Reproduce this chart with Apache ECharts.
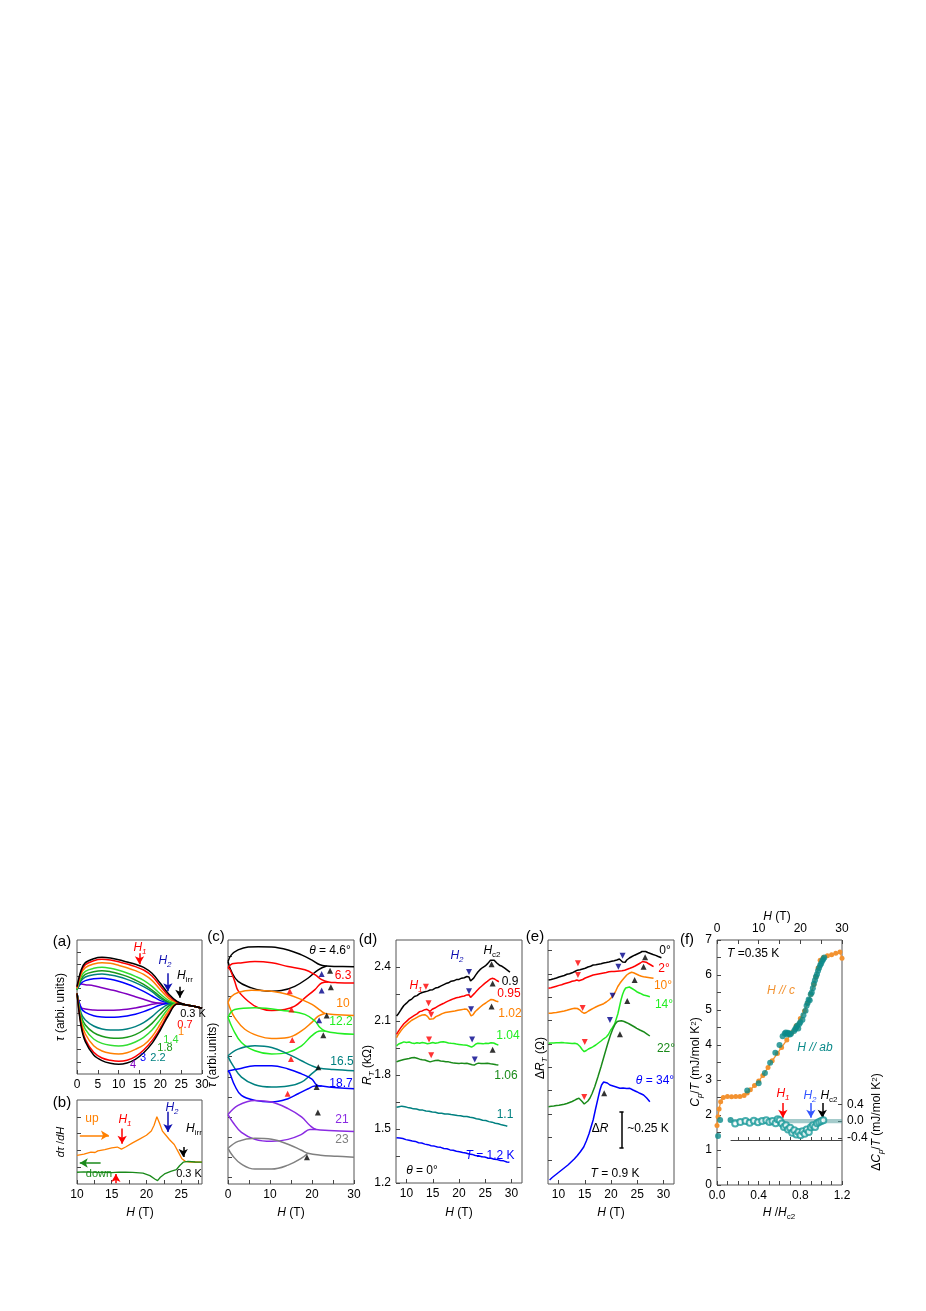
<!DOCTYPE html>
<html><head><meta charset="utf-8">
<script src="https://cdn.jsdelivr.net/npm/echarts@6/dist/echarts.min.js"></script>
<style>html,body{margin:0;padding:0;background:#fff}#c{width:926px;height:1311px}</style>
</head><body><div id="c"></div><script>
// ---------------- Panel (a) : tau vs H, loops at several temperatures ----------------
const aH = [0,1,2,4,6,8,10,12,14,16,18,20,22,24,26,28,30];
const aTempLabels = ['0.3 K','0.7','1','1.4','1.8','2.2','3','4'];
const aUp03 = [0.5,1.0,1.22,1.34,1.38,1.36,1.31,1.24,1.17,1.08,0.9,0.6,0.28,0.06,-0.04,-0.09,-0.15];
const aUp07 = [0.48,0.95,1.16,1.28,1.32,1.3,1.25,1.18,1.1,1.0,0.82,0.52,0.22,0.04,-0.04,-0.09,-0.15];
const aUp1  = [0.45,0.88,1.07,1.18,1.22,1.2,1.14,1.07,0.98,0.87,0.69,0.41,0.15,0.02,-0.04,-0.09,-0.15];
const aUp14 = [0.42,0.8,0.96,1.05,1.08,1.05,0.99,0.91,0.81,0.69,0.51,0.28,0.08,0.0,-0.04,-0.09,-0.15];
const aUp18 = [0.4,0.72,0.87,0.95,0.98,0.95,0.89,0.81,0.7,0.57,0.4,0.2,0.04,-0.01,-0.04,-0.09,-0.15];
const aUp22 = [0.4,0.68,0.79,0.86,0.88,0.85,0.8,0.72,0.62,0.5,0.35,0.15,0.02,-0.01,-0.04,-0.09,-0.15];
const aUp3  = [0.42,0.6,0.68,0.74,0.75,0.72,0.66,0.58,0.48,0.36,0.22,0.08,0.01,-0.01,-0.04,-0.09,-0.15];
const aUp4  = [0.6,0.58,0.56,0.53,0.47,0.41,0.35,0.28,0.2,0.12,0.04,0.0,-0.01,-0.02,-0.04,-0.09,-0.15];
const aDn03 = [0.3,-0.7,-1.15,-1.55,-1.72,-1.8,-1.83,-1.79,-1.68,-1.48,-1.2,-0.8,-0.35,-0.02,-0.04,-0.09,-0.15];
const aDn07 = [0.3,-0.65,-1.08,-1.47,-1.64,-1.71,-1.74,-1.71,-1.6,-1.4,-1.12,-0.74,-0.3,-0.02,-0.04,-0.09,-0.15];
const aDn1  = [0.3,-0.55,-0.92,-1.27,-1.43,-1.5,-1.52,-1.48,-1.38,-1.25,-1.0,-0.62,-0.22,-0.01,-0.04,-0.09,-0.15];
const aDn14 = [0.3,-0.45,-0.78,-1.07,-1.2,-1.26,-1.28,-1.25,-1.16,-1.02,-0.8,-0.48,-0.15,0.0,-0.04,-0.09,-0.15];
const aDn18 = [0.3,-0.38,-0.65,-0.88,-0.99,-1.04,-1.05,-1.02,-0.94,-0.8,-0.6,-0.33,-0.08,-0.01,-0.04,-0.09,-0.15];
const aDn22 = [0.3,-0.3,-0.5,-0.68,-0.77,-0.8,-0.8,-0.77,-0.7,-0.58,-0.4,-0.18,-0.03,-0.01,-0.04,-0.09,-0.15];
const aDn3  = [0.3,-0.15,-0.27,-0.37,-0.41,-0.42,-0.41,-0.38,-0.33,-0.25,-0.15,-0.05,0.0,-0.01,-0.04,-0.09,-0.15];
const aDn4  = [0.3,-0.12,-0.17,-0.2,-0.21,-0.21,-0.2,-0.18,-0.14,-0.09,-0.03,0.0,-0.01,-0.02,-0.04,-0.09,-0.15];
const aXTicks = [0,5,10,15,20,25,30];

// ---------------- Panel (b) : dtau/dH ----------------
const bUp = [[10,3.4],[11,3.55],[12,3.8],[12.6,3.75],[13,3.95],[14,4.1],[15,4.3],[15.8,4.4],[16.4,4.15],[17,4.4],[18,4.9],[19,5.35],[20,5.8],[20.7,6.3],[21.1,7.0],[21.5,8.0],[21.9,7.2],[22.3,6.3],[22.8,5.8],[23.3,5.3],[24,4.7],[24.6,3.8],[25.1,3.0],[25.6,2.7],[26.3,2.6],[27,2.62],[28,2.6]];
const bDown = [[10,1.4],[11,1.45],[12,1.42],[13,1.38],[14,1.4],[15,1.35],[16,1.42],[17,1.4],[18,1.38],[19.5,1.3],[20.5,1.0],[21.2,0.6],[21.6,0.4],[22.0,0.8],[22.6,1.2],[23.5,1.5],[24.3,1.7],[24.8,2.2],[25.3,2.6],[26,2.7],[27,2.62],[28,2.6]];
const bXTicks = [10,15,20,25];

// ---------------- Panel (c) : tau vs H at several angles ----------------
const cAngles = ['4.6','6.3','10','12.2','16.5','18.7','21','23'];
const cUp46 = [[0,22.43],[0.8,23.1],[2.4,23.6],[4.8,23.9],[7.2,23.93],[10.4,23.9],[14.3,23.6],[17.5,23.1],[19.9,22.6],[21.9,22.1],[23.5,21.97],[26,21.93],[30,21.9]];
const cDn46 = [[0,22.43],[0.8,21.43],[2.4,20.43],[5.6,19.77],[8,19.5],[10.4,19.43],[12.7,19.5],[15.9,19.93],[19.1,20.77],[21.5,21.6],[23.5,21.97]];
const cUp63 = [[0,21.8],[1,22.2],[2.4,22.27],[6.4,22.43],[10.4,22.3],[14.3,21.93],[18.3,21.6],[20.7,21.1],[22.3,20.6],[23.9,20.37],[26,20.3],[30,20.27]];
const cDn63 = [[0,21.8],[0.5,21.6],[1.6,20.43],[2.4,19.5],[4.8,18.43],[7.2,17.77],[10.4,17.5],[13.5,17.6],[15.9,17.93],[18.3,18.77],[20.7,19.6],[22.3,20.27],[23.9,20.37]];
const cUp10 = [[0,18.3],[0.8,18.9],[2.4,19.3],[5.6,19.53],[8,19.5],[10.4,19.43],[14.3,19.1],[17.5,18.6],[20,18.1],[22,17.5],[23.1,17.2],[25,17.1],[30,17.0]];
const cDn10 = [[0,18.3],[0.6,17.6],[1.6,16.77],[4,15.6],[7.2,14.93],[10.4,14.67],[14.3,14.77],[17.5,15.43],[19.9,16.27],[21.5,16.93],[23.1,17.2]];
const cUp122 = [[0,16.8],[1.6,17.6],[6.4,17.77],[14.3,17.43],[18.3,17.1],[20.7,16.43],[21.9,15.77],[23.1,15.43],[26,15.2],[30,15.1]];
const cDn122 = [[0,16.8],[1.2,15.6],[3.2,14.27],[6.4,13.43],[10.4,13.1],[14.3,13.27],[17.5,13.93],[19.9,14.93],[21.9,15.43],[23.1,15.43]];
const cUp165 = [[0,12.93],[2.4,13.6],[6.4,13.93],[10.4,13.77],[14.3,13.1],[17.5,12.43],[19.9,11.93],[21.5,11.7],[25,11.55],[30,11.43]];
const cDn165 = [[0,12.85],[1.2,11.93],[3.2,10.77],[6.4,10.0],[10.4,9.77],[14.3,9.87],[17.5,10.27],[19.9,11.1],[21.5,11.65]];
const cUp187 = [[0,11.4],[2.4,11.6],[6.4,11.93],[10.4,11.93],[14.3,11.6],[17.5,11.1],[19.9,10.6],[21.1,10.0],[22.3,9.87],[26,9.7],[30,9.6]];
const cDn187 = [[0,11.4],[0.4,11.2],[1.6,9.93],[3.2,8.93],[6.4,8.43],[10.4,8.27],[14.3,8.6],[16.7,9.1],[19.1,9.6],[20.7,9.87],[22.3,9.87]];
const cUp21 = [[0,7.0],[2.4,7.93],[6.4,8.43],[10.4,8.27],[14.3,7.6],[17.5,6.77],[19.5,5.9],[21,5.5],[24,5.4],[30,5.3]];
const cDn21 = [[0,7.0],[1.2,6.2],[3.2,5.2],[6.4,4.5],[10.4,4.3],[14.3,4.5],[17.5,5.0],[19.5,5.5],[21,5.5]];
const cUp23 = [[0,3.6],[2.4,4.3],[6.4,4.6],[10.4,4.5],[14.3,4.0],[17.5,3.4],[19,3.1],[22,2.9],[26,2.8],[30,2.7]];
const cDn23 = [[0,3.6],[1.2,2.8],[3.2,2.0],[6.4,1.5],[10.4,1.5],[14.3,1.9],[17.5,2.6],[19,3.1]];
const cTriRed = [[14.7,19.43],[15.1,17.6],[15.3,14.53],[15.0,12.6],[14.2,9.1]];
const cTriBlue = [[22.3,21.17],[22.3,19.5],[21.7,16.5]];
const cTriBlack = [[24.3,21.5],[24.5,19.83],[23.5,17.0],[22.7,15.0],[21.5,11.77],[21.1,9.77],[21.4,7.2],[18.8,2.7]];
const cYTicks = [0.66,2.69,4.72,6.75,8.78,10.81,12.84,14.87,16.9,18.93,20.96,22.99];

// ---------------- Panel (d) : R_T vs H ----------------
const dLabels = ['0.9','0.95','1.02','1.04','1.06','1.1','T = 1.2 K'];
const d09 = [[8.1,2.128],[8.5,2.142],[9.0,2.165],[9.5,2.186],[10.0,2.199],[10.5,2.214],[11.0,2.222],[11.5,2.236],[12.0,2.241],[12.5,2.252],[13.0,2.258],[13.5,2.262],[14.0,2.266],[14.5,2.272],[15.0,2.274],[15.5,2.283],[16.0,2.286],[16.5,2.294],[17.0,2.301],[17.5,2.308],[18.0,2.312],[18.5,2.321],[19.0,2.323],[19.5,2.33],[20.0,2.331],[20.5,2.338],[21.0,2.34],[21.5,2.347],[21.9,2.345],[22.2,2.322],[22.5,2.32],[22.8,2.338],[23.2,2.356],[23.6,2.372],[24.0,2.385],[24.5,2.397],[25.0,2.406],[25.5,2.42],[26.0,2.438],[26.3,2.446],[26.7,2.438],[27.2,2.422],[27.7,2.41],[28.2,2.404],[28.7,2.394],[29.2,2.383],[29.7,2.372]];
const d095 = [[8.1,2.026],[8.5,2.045],[9.0,2.066],[9.5,2.085],[10.0,2.098],[10.5,2.112],[11.0,2.122],[11.5,2.131],[12.0,2.14],[12.5,2.152],[13.0,2.156],[13.5,2.163],[13.9,2.165],[14.2,2.155],[14.5,2.154],[14.9,2.165],[15.4,2.172],[16.0,2.183],[16.5,2.19],[17.0,2.197],[17.5,2.205],[18.0,2.212],[18.5,2.218],[19.0,2.224],[19.5,2.229],[20.0,2.232],[20.5,2.236],[21.0,2.239],[21.5,2.245],[21.9,2.246],[22.2,2.231],[22.5,2.232],[22.9,2.252],[23.4,2.268],[23.9,2.283],[24.4,2.296],[24.9,2.309],[25.4,2.32],[25.9,2.332],[26.3,2.337],[26.8,2.333],[27.2,2.325],[27.6,2.318]];
const d102 = [[8.1,2.007],[8.5,2.028],[9.0,2.048],[9.5,2.066],[10.0,2.08],[10.5,2.092],[11.0,2.104],[11.5,2.112],[12.0,2.12],[12.5,2.128],[13.0,2.133],[13.5,2.135],[14.0,2.126],[14.4,2.11],[14.7,2.103],[15.1,2.112],[15.6,2.124],[16.2,2.132],[16.8,2.141],[17.4,2.147],[18.0,2.15],[18.6,2.153],[19.2,2.156],[19.8,2.16],[20.4,2.163],[21.0,2.166],[21.5,2.165],[21.9,2.152],[22.3,2.128],[22.7,2.136],[23.1,2.153],[23.6,2.166],[24.1,2.179],[24.6,2.191],[25.1,2.2],[25.6,2.211],[26.1,2.22],[26.5,2.218],[27.0,2.211],[27.5,2.207]];
const d104 = [[8.1,1.962],[8.5,1.972],[9.0,1.978],[9.5,1.984],[10.0,1.981],[10.5,1.983],[11.0,1.978],[11.5,1.975],[12.0,1.979],[12.5,1.976],[13.0,1.981],[13.5,1.978],[14.0,1.974],[14.5,1.976],[15.0,1.981],[15.5,1.976],[16.0,1.979],[16.5,1.983],[17.0,1.985],[17.5,1.982],[18.0,1.978],[18.5,1.976],[19.0,1.975],[19.5,1.972],[20.0,1.97],[20.5,1.968],[21.0,1.966],[21.5,1.965],[22.0,1.96],[22.4,1.955],[22.8,1.962],[23.2,1.972],[23.6,1.976],[24.1,1.975],[24.6,1.973],[25.1,1.976],[25.6,1.975],[26.1,1.979],[26.6,1.978],[27.0,1.972],[27.5,1.966]];
const d106 = [[8.1,1.873],[8.5,1.878],[9.0,1.882],[9.5,1.886],[10.0,1.889],[10.5,1.892],[11.0,1.896],[11.5,1.897],[12.0,1.893],[12.5,1.888],[13.0,1.885],[13.5,1.883],[14.0,1.878],[14.5,1.873],[15.0,1.877],[15.5,1.881],[16.0,1.882],[16.5,1.878],[17.0,1.876],[17.5,1.874],[18.0,1.873],[18.5,1.869],[19.0,1.866],[19.5,1.865],[20.0,1.864],[20.5,1.866],[21.0,1.864],[21.5,1.865],[22.0,1.861],[22.5,1.857],[22.9,1.855],[23.3,1.862],[23.7,1.866],[24.2,1.864],[24.8,1.864],[25.4,1.865],[26.0,1.862],[26.6,1.86],[27.1,1.857],[27.5,1.855]];
const d11 = [[8.1,1.621],[8.6,1.624],[9.1,1.627],[9.7,1.624],[10.2,1.62],[10.8,1.617],[11.3,1.612],[11.9,1.611],[12.5,1.606],[13.1,1.605],[13.7,1.6],[14.3,1.599],[14.9,1.594],[15.5,1.593],[16.1,1.588],[16.7,1.588],[17.3,1.583],[17.9,1.583],[18.5,1.58],[19.1,1.578],[19.7,1.575],[20.3,1.574],[20.9,1.569],[21.5,1.569],[22.1,1.565],[22.7,1.562],[23.3,1.557],[23.9,1.554],[24.5,1.549],[25.1,1.547],[25.7,1.541],[26.3,1.538],[26.9,1.532],[27.5,1.529],[28.1,1.523],[28.7,1.52],[29.2,1.515]];
const d12K = [[8.1,1.452],[8.7,1.45],[9.3,1.447],[9.9,1.441],[10.5,1.438],[11.1,1.433],[11.7,1.431],[12.3,1.424],[12.9,1.422],[13.5,1.416],[14.1,1.413],[14.7,1.407],[15.3,1.405],[15.9,1.4],[16.5,1.398],[17.1,1.392],[17.7,1.39],[18.3,1.384],[18.9,1.382],[19.5,1.376],[20.1,1.374],[20.7,1.369],[21.3,1.367],[21.9,1.361],[22.5,1.359],[23.1,1.353],[23.7,1.352],[24.3,1.346],[24.9,1.344],[25.5,1.339],[26.1,1.337],[26.7,1.332],[27.3,1.33],[27.9,1.325],[28.5,1.323],[29.1,1.317],[29.6,1.315]];
const dTriRed = [[13.7,2.29],[14.2,2.198],[14.7,2.135],[14.3,1.997],[14.7,1.91]];
const dTriBlue = [[21.9,2.372],[21.9,2.265],[22.3,2.165],[22.5,1.997],[23.0,1.886]];
const dTriBlack = [[26.2,2.415],[26.4,2.308],[26.2,2.18],[26.4,1.94]];
const dYLabels = [1.2,1.5,1.8,2.1,2.4];
const dYTicks = [1.2,1.35,1.5,1.65,1.8,1.95,2.1,2.25,2.4];
const dXTicks = [10,15,20,25,30];

// ---------------- Panel (e) : Delta R_T vs H ----------------
const eLabels = ['0°','2°','10°','14°','22°','θ = 34°'];
const e0 = [[8.1,20.4],[8.6,20.45],[9.1,20.52],[9.6,20.6],[10.1,20.7],[10.6,20.78],[11.1,20.85],[11.6,20.97],[12.1,21.02],[12.6,21.12],[13.1,21.25],[13.6,21.38],[14.1,21.42],[14.6,21.5],[15.1,21.58],[15.6,21.7],[16.1,21.78],[16.6,21.9],[17.1,21.92],[17.6,21.97],[18.1,22.02],[18.6,22.1],[19.1,22.14],[19.6,22.2],[20.1,22.27],[20.6,22.33],[21.1,22.4],[21.6,22.5],[21.9,22.45],[22.2,22.2],[22.4,22.07],[22.7,22.18],[23.0,22.4],[23.5,22.6],[24.0,22.75],[24.5,22.88],[25.0,23.0],[25.5,23.12],[25.9,23.25],[26.2,23.3],[26.6,23.25],[27.0,23.15],[27.5,23.05],[28.0,22.95],[28.5,22.86],[29.0,22.75],[29.6,22.63]];
const e2 = [[8.1,19.57],[8.6,19.62],[9.1,19.7],[9.6,19.78],[10.1,19.86],[10.6,19.93],[11.1,20.02],[11.6,20.1],[12.1,20.18],[12.6,20.27],[13.1,20.33],[13.5,20.4],[13.9,20.32],[14.2,20.28],[14.6,20.45],[15.1,20.6],[15.6,20.7],[16.1,20.8],[16.6,20.9],[17.1,20.95],[17.6,21.0],[18.1,21.05],[18.6,21.1],[19.1,21.15],[19.6,21.22],[20.1,21.25],[20.6,21.25],[21.1,21.28],[21.6,21.3],[22.1,21.32],[22.6,21.38],[23.1,21.48],[23.6,21.57],[24.1,21.68],[24.6,21.8],[25.1,21.95],[25.6,22.1],[26.0,22.25],[26.3,22.3],[26.7,22.18],[27.1,22.05],[27.6,21.9],[28.1,21.73]];
const e10 = [[8.1,17.07],[8.6,17.08],[9.1,17.12],[9.6,17.15],[10.1,17.2],[10.6,17.25],[11.1,17.3],[11.6,17.37],[12.1,17.45],[12.6,17.52],[13.1,17.57],[13.6,17.55],[14.1,17.38],[14.5,17.18],[14.9,17.07],[15.3,17.15],[15.7,17.3],[16.2,17.45],[16.6,17.57],[17.1,17.7],[17.6,17.82],[18.1,17.93],[18.6,18.03],[19.1,18.2],[19.6,18.4],[20.1,18.65],[20.5,18.9],[20.9,19.3],[21.3,19.75],[21.7,20.07],[22.1,20.35],[22.5,20.6],[23.0,20.9],[23.5,21.08],[23.9,21.17],[24.3,21.12],[24.8,21.0],[25.3,20.88],[25.8,20.78],[26.2,20.73],[26.8,20.68],[27.4,20.63],[28.1,20.57]];
const e14 = [[8.1,14.07],[8.6,14.1],[9.1,14.1],[9.6,14.13],[10.1,14.12],[10.6,14.14],[11.1,14.12],[11.6,14.1],[12.1,14.08],[12.6,14.06],[13.1,14.07],[13.6,14.0],[14.1,13.75],[14.5,13.45],[14.9,13.23],[15.3,13.35],[15.7,13.5],[16.2,13.62],[16.6,13.73],[17.1,13.9],[17.6,14.1],[18.1,14.3],[18.6,14.52],[19.1,14.7],[19.5,14.95],[19.9,15.35],[20.3,15.65],[20.7,16.0],[21.0,16.5],[21.3,17.0],[21.6,17.7],[21.9,18.4],[22.2,18.95],[22.5,19.35],[22.8,19.6],[23.1,19.73],[23.5,19.7],[24.0,19.55],[24.5,19.38],[24.9,19.23],[25.5,19.08],[26.2,18.9],[26.8,18.82],[27.4,18.73]];
const e22 = [[8.1,7.73],[8.6,7.77],[9.1,7.8],[9.6,7.84],[10.1,7.88],[10.6,7.93],[11.1,7.98],[11.6,8.05],[12.1,8.15],[12.6,8.25],[13.1,8.38],[13.5,8.5],[13.9,8.57],[14.2,8.45],[14.5,8.25],[14.9,8.0],[15.2,8.1],[15.6,8.3],[16.0,8.6],[16.4,9.05],[16.9,9.73],[17.5,10.7],[18.1,11.73],[18.8,13.0],[19.4,14.07],[19.9,14.9],[20.4,15.57],[20.8,16.0],[21.2,16.25],[21.6,16.3],[22.0,16.33],[22.5,16.25],[23.0,16.13],[23.5,16.0],[24.0,15.85],[24.5,15.7],[24.9,15.57],[25.5,15.4],[26.2,15.23],[26.8,15.02],[27.4,14.8]];
const e34 = [[8.3,0.4],[8.8,0.65],[9.4,0.9],[10.0,1.15],[10.6,1.4],[11.2,1.65],[11.8,1.9],[12.4,2.2],[13.0,2.5],[13.6,2.85],[14.2,3.25],[14.8,3.7],[15.3,4.3],[15.8,5.0],[16.2,5.7],[16.6,6.4],[17.1,7.6],[17.6,8.73],[17.9,9.4],[18.2,9.9],[18.6,10.2],[18.9,10.23],[19.3,10.1],[19.8,9.9],[20.4,9.8],[21.0,9.7],[21.7,9.57],[22.3,9.6],[23.0,9.55],[23.6,9.57],[24.2,9.4],[24.9,9.23],[25.5,9.07],[26.2,8.9],[26.8,8.6],[27.4,8.23]];
const eTriRed = [[13.7,22.07],[13.7,20.9],[14.6,17.6],[15.0,14.2],[14.9,8.7]];
const eTriBlue = [[22.2,22.83],[21.4,21.73],[20.3,18.83],[19.8,16.4]];
const eTriBlack = [[26.5,22.67],[26.2,21.73],[24.5,20.4],[23.1,18.3],[21.7,14.97],[18.7,9.07]];
const eYTicks = [2.33,4.67,7.0,9.33,11.67,14.0,16.33,18.67,21.0,23.33];
const eXTicks = [10,15,20,25,30];
const eBarX = 22.0, eBarTop = 7.2, eBarBottom = 3.6;

// ---------------- Panel (f) : specific heat ----------------
const fOrange = [[0,1.7],[0.01,1.95],[0.02,2.17],[0.035,2.38],[0.06,2.5],[0.1,2.53],[0.14,2.52],[0.18,2.53],[0.22,2.53],[0.26,2.56],[0.29,2.63],[0.32,2.72],[0.36,2.84],[0.4,2.97],[0.44,3.13],[0.49,3.36],[0.53,3.55],[0.58,3.76],[0.62,3.93],[0.67,4.14],[0.72,4.36],[0.76,4.55],[0.8,4.76],[0.84,4.97],[0.87,5.2],[0.9,5.45],[0.93,5.72],[0.95,5.95],[0.97,6.2],[0.99,6.42],[1.02,6.5],[1.06,6.55],[1.1,6.58],[1.14,6.62],[1.18,6.66],[1.2,6.48]];
const fTeal = [[0.01,1.4],[0.03,1.86],[0.13,1.86],[0.29,2.7],[0.4,2.91],[0.46,3.2],[0.51,3.49],[0.56,3.78],[0.6,4.0],[0.63,4.25],[0.65,4.33],[0.66,4.36],[0.67,4.3],[0.68,4.35],[0.69,4.33],[0.7,4.3],[0.71,4.32],[0.74,4.4],[0.75,4.45],[0.76,4.5],[0.77,4.55],[0.78,4.47],[0.79,4.6],[0.8,4.65],[0.82,4.72],[0.83,4.85],[0.85,4.98],[0.86,5.12],[0.87,5.2],[0.88,5.3],[0.89,5.28],[0.9,5.45],[0.91,5.5],[0.92,5.62],[0.93,5.75],[0.94,5.85],[0.95,5.95],[0.96,6.02],[0.97,6.12],[0.98,6.2],[0.99,6.28],[1.0,6.33],[1.01,6.4],[1.02,6.45],[1.03,6.5]];
const fDelta = [[0.17,-0.06],[0.22,-0.02],[0.27,0.0],[0.31,-0.04],[0.35,0.01],[0.39,-0.03],[0.43,0.0],[0.47,0.02],[0.5,-0.02],[0.53,0.0],[0.56,-0.05],[0.58,0.04],[0.6,0.02],[0.62,-0.06],[0.64,-0.14],[0.66,-0.1],[0.68,-0.2],[0.7,-0.16],[0.72,-0.28],[0.74,-0.22],[0.76,-0.32],[0.78,-0.26],[0.8,-0.34],[0.82,-0.24],[0.84,-0.3],[0.86,-0.2],[0.88,-0.26],[0.9,-0.15],[0.92,-0.1],[0.94,-0.14],[0.96,-0.05],[0.98,-0.02],[1.0,0.0],[1.02,0.02]];
const fMarks = [0.63, 0.90, 1.01]; // H1, H2, Hc2 in H/Hc2
const fXLabels = [0,0.4,0.8,1.2];
const fXTicks = [0,0.1,0.2,0.3,0.4,0.5,0.6,0.7,0.8,0.9,1.0,1.1,1.2];
const fTopLabels = [0,10,20,30];
const fYLabels = [0,1,2,3,4,5,6,7];
const fY2Labels = [-0.4,0,0.4];

// ---------------- helpers ----------------
const FONT = "'Liberation Sans', Arial, Helvetica, sans-serif";
const TK = '#444';
function R(c, s) {
  const sub = Math.round(s * 0.7);
  const b = {fill:c, color:c, fontFamily:FONT, fontSize:s, lineHeight:s+2, verticalAlign:'top'};
  return {
    n: b,
    i: Object.assign({}, b, {fontStyle:'italic'}),
    s: Object.assign({}, b, {fontSize:sub, lineHeight:sub+1, padding:[Math.round(s*0.5),0,0,0]}),
    si: Object.assign({}, b, {fontSize:sub, lineHeight:sub+1, fontStyle:'italic', padding:[Math.round(s*0.5),0,0,0]}),
    u: Object.assign({}, b, {fontSize:sub, lineHeight:sub+1})
  };
}
function T(x, y, text, color, size, o) {
  o = o || {};
  return {type:'text', x:x, y:y, rotation:o.rot||0, z:100, silent:true,
    style:{text:text, fill:color, fontFamily:FONT, fontSize:size, align:o.align||'center', verticalAlign:'middle', rich:R(color,size)}};
}
function G(left, top, width, height, show) {
  return {left, top, width, height, show: show !== false, borderColor:'#555', borderWidth:1, backgroundColor:'transparent', containLabel:false, outerBoundsMode:'none'};
}
function AX(gi, min, max, labels, ticks, o) {
  const a = {type:'value', gridIndex:gi, min:min, max:max,
    axisLine:{show:false, onZero:false}, splitLine:{show:false},
    axisTick:{show: ticks.length>0, inside:true, length:4, lineStyle:{color:TK,width:1}, customValues:ticks},
    axisLabel:{show: labels.length>0, color:'#000', fontFamily:FONT, fontSize:12, margin:5, customValues:labels}};
  return Object.assign(a, o || {});
}
function L(xi, data, color, w, smooth, z) {
  return {type:'line', xAxisIndex:xi, yAxisIndex:xi, data:data, symbol:'none', smooth:smooth||false,
    lineStyle:{color:color, width:w||1.5}, itemStyle:{color:color}, silent:true, z:z||2};
}
function TRI(xi, data, color, down) {
  return {type:'scatter', xAxisIndex:xi, yAxisIndex:xi, data:data, symbol:'triangle', symbolSize:[6,6],
    symbolRotate: down ? 180 : 0, itemStyle:{color:color}, silent:true, z:5};
}
function ARROWS(xi, yi, items, x0, y0) {
  return {type:'line', xAxisIndex:xi, yAxisIndex:yi, data:[[x0,y0]], symbol:'none', lineStyle:{opacity:0}, silent:true, z:6,
    markLine:{silent:true, symbol:['none','arrow'], symbolSize:[7,8], label:{show:false}, emphasis:{disabled:true}, animation:false,
      data: items.map(a => [{coord:[a[0],a[1]], lineStyle:{color:a[4], width:1.5, type:'solid'}, itemStyle:{color:a[4]}}, {coord:[a[2],a[3]]}])}};
}
function pairs(xs, ys) { return xs.map((x,i) => [x, ys[i]]); }

// grids: 0 a, 1 b, 2 c, 3 d, 4 e, 5 f, 6 f-inset
const grids = [G(77,940,125,134), G(77,1100,125,84), G(228,940,126,244), G(396,940,126,243), G(548,940,126,244), G(717,940,125,245), G(731,1100,111,40,false)];

const fmt1 = v => v.toFixed(1);
const insetTicks = [0.2,0.3,0.4,0.5,0.6,0.7,0.8,0.9,1.0,1.1];
const xAxes = [
  AX(0, 0, 30, aXTicks, aXTicks),
  AX(1, 10, 28, bXTicks, [10,12.5,15,17.5,20,22.5,25,27.5]),
  AX(2, 0, 30, [0,10,20,30], [0,5,10,15,20,25,30]),
  AX(3, 8, 32, dXTicks, dXTicks),
  AX(4, 8, 32, eXTicks, eXTicks),
  AX(5, 0, 1.2, fXLabels, fXTicks, {axisLabel:{show:true,color:'#000',fontFamily:FONT,fontSize:12,margin:5,customValues:fXLabels,formatter:fmt1}}),
  AX(5, 0, 30, fTopLabels, [0,5,10,15,20,25,30], {position:'top'}),
  AX(6, 0.13, 1.2, [], insetTicks, {position:'bottom', axisLine:{show:true, onZero:false, lineStyle:{color:TK,width:1}}, axisTick:{show:true,inside:true,length:3,lineStyle:{color:TK},customValues:insetTicks}})
];
const yAxes = [
  AX(0, -2.12, 1.9, [], [-1.753,-1.387,-1.02,-0.653,-0.287,0.08,0.447,0.813,1.18,1.547]),
  AX(1, 0, 10, [], [2,4,6,8]),
  AX(2, 0, 24.6, [], cYTicks),
  AX(3, 1.2, 2.55, dYLabels, dYTicks),
  AX(4, 0, 24.4, [], eYTicks),
  AX(5, 0, 7, fYLabels, [0,0.5,1,1.5,2,2.5,3,3.5,4,4.5,5,5.5,6,6.5,7]),
  AX(6, -0.45, 0.5, fY2Labels, fY2Labels, {position:'right', axisLabel:{show:true,color:'#000',fontFamily:FONT,fontSize:12,margin:5,customValues:fY2Labels,formatter:fmt1}})
];
const series = [];
// (a)
const aColors = ['#000000','#ff0000','#ff8000','#33dd33','#1a991a','#008080','#0000ff','#8000c0'];
const aUps = [aUp03,aUp07,aUp1,aUp14,aUp18,aUp22,aUp3,aUp4];
const aDns = [aDn03,aDn07,aDn1,aDn14,aDn18,aDn22,aDn3,aDn4];
for (let k = aUps.length-1; k >= 0; k--) {
  series.push(L(0, pairs(aH, aUps[k]), aColors[k], 1.5, 0.35, 10-k));
  series.push(L(0, pairs(aH, aDns[k]), aColors[k], 1.5, 0.35, 10-k));
}
series.push(ARROWS(0, 0, [[15,1.5,15,1.17,'#ff0000'],[21.8,0.9,21.8,0.36,'#1010b0'],[24.7,0.5,24.7,0.17,'#000000']], 0, 0));
// (b)
series.push(L(1, bUp, '#ff8000', 1.3, false));
series.push(L(1, bDown, '#1a8a1a', 1.3, false));
series.push(ARROWS(1, 1, [[16.5,6.6,16.5,4.8,'#ff0000'],[15.6,0.1,15.6,1.2,'#ff0000'],[23.1,8.6,23.1,6.2,'#1010b0'],[22.1,-0.2,22.1,0.3,'#1010b0'],[25.3,4.4,25.3,3.2,'#000000'],[10.4,5.8,14.6,5.8,'#ff8000'],[13.4,2.5,10.4,2.5,'#1a8a1a']], 10, 0));
// (c)
const cColors = ['#000000','#ff0000','#ff8000','#22ee22','#008080','#0000ff','#8a2be2','#808080'];
const cUps = [cUp46,cUp63,cUp10,cUp122,cUp165,cUp187,cUp21,cUp23];
const cDns = [cDn46,cDn63,cDn10,cDn122,cDn165,cDn187,cDn21,cDn23];
for (let k = 0; k < cUps.length; k++) {
  series.push(L(2, cUps[k], cColors[k], 1.5, 0.4, 3));
  series.push(L(2, cDns[k], cColors[k], 1.5, 0.4, 3));
}
series.push(TRI(2, cTriRed, '#ff0000'), TRI(2, cTriBlue, '#00008b'), TRI(2, cTriBlack, '#000000'));
// (d)
const dColors = ['#000000','#ff0000','#ff8000','#22ee22','#1a8a1a','#008080','#0000ff'];
[d09,d095,d102,d104,d106,d11,d12K].forEach((d,k) => series.push(L(3, d, dColors[k], 1.5, false, 3)));
series.push(TRI(3, dTriRed, '#ff0000', true), TRI(3, dTriBlue, '#00008b', true), TRI(3, dTriBlack, '#000000'));
// (e)
const eColors = ['#000000','#ff0000','#ff8000','#22ee22','#1a8a1a','#0000ff'];
[e0,e2,e10,e14,e22,e34].forEach((d,k) => series.push(L(4, d, eColors[k], 1.5, false, 3)));
series.push(TRI(4, eTriRed, '#ff0000', true), TRI(4, eTriBlue, '#00008b', true), TRI(4, eTriBlack, '#000000'));
series.push({type:'line', xAxisIndex:4, yAxisIndex:4, data:[[8,0]], symbol:'none', lineStyle:{opacity:0}, silent:true,
  markLine:{silent:true, symbol:['none','none'], label:{show:false}, lineStyle:{color:'#000',width:1.5,type:'solid'},
    data:[[{coord:[eBarX,eBarTop]},{coord:[eBarX,eBarBottom]}],[{coord:[eBarX-0.4,eBarTop]},{coord:[eBarX+0.4,eBarTop]}],[{coord:[eBarX-0.4,eBarBottom]},{coord:[eBarX+0.4,eBarBottom]}]]}});
// (f)
series.push({type:'line', xAxisIndex:5, yAxisIndex:5, data:fOrange, symbol:'circle', symbolSize:5, showAllSymbol:true,
  lineStyle:{color:'#f39230', width:1.3}, itemStyle:{color:'#f39230'}, silent:true, z:3});
series.push({type:'scatter', xAxisIndex:5, yAxisIndex:5, data:fTeal, symbol:'circle', symbolSize:6, itemStyle:{color:'#0b8a8a'}, silent:true, z:4});
series.push({type:'scatter', xAxisIndex:7, yAxisIndex:6, data:fDelta, symbol:'emptyCircle', symbolSize:6,
  itemStyle:{color:'#1a9a9a', borderColor:'#1a9a9a', borderWidth:1}, silent:true, z:5,
  markArea:{silent:true, itemStyle:{color:'rgba(90,160,160,0.55)'}, data:[[{coord:[0.15,-0.05]},{coord:[1.2,0.05]}]]}});
series.push(ARROWS(7, 6, [[fMarks[0],0.43,fMarks[0],0.08,'#ff0000'],[fMarks[1],0.43,fMarks[1],0.08,'#3355ff'],[fMarks[2],0.43,fMarks[2],0.08,'#000000']], 0.5, 0));

const graphics = [
  // panel letters
  T(62,943,'{n|(a)}','#000',15), T(62,1104,'{n|(b)}','#000',15), T(216,938,'{n|(c)}','#000',15),
  T(368,941,'{n|(d)}','#000',15), T(535,938,'{n|(e)}','#000',15), T(687,941,'{n|(f)}','#000',15),
  // (a)
  T(62,1007,'{i|τ}{n| (arbi. units)}','#000',12,{rot:Math.PI/2}),
  T(140,949,'{i|H}{si|1}','#ff0000',12), T(165,962,'{i|H}{si|2}','#1010b0',12), T(185,977,'{i|H}{s|irr}','#000',12),
  T(193,1015,'{n|0.3 K}','#000',11), T(185,1026,'{n|0.7}','#ff0000',11), T(181,1033,'{n|1}','#ff8000',11),
  T(171,1041,'{n|1.4}','#33dd33',11), T(165,1049,'{n|1.8}','#1a991a',11), T(158,1059,'{n|2.2}','#008080',11),
  T(143,1059,'{n|3}','#0000ff',11), T(133,1066,'{n|4}','#8000c0',11),
  // (b)
  T(62,1142,'{i|d}{i|τ}{n| /}{i|dH}','#000',11,{rot:Math.PI/2}),
  T(92,1120,'{n|up}','#ff8000',12), T(99,1175,'{n|down}','#1a8a1a',11),
  T(125,1121,'{i|H}{si|1}','#ff0000',12), T(172,1109,'{i|H}{si|2}','#1010b0',12), T(194,1130,'{i|H}{s|irr}','#000',12),
  T(189,1175,'{n|0.3 K}','#000',11),
  T(140,1214,'{i|H}{n| (T)}','#000',12),
  // (c)
  T(214,1055,'{i|τ}{n| (arbi.units)}','#000',12,{rot:Math.PI/2}),
  T(330,952,'{i|θ}{n| = 4.6°}','#000',12), T(343,977,'{n|6.3}','#ff0000',12), T(343,1005,'{n|10}','#ff8000',12),
  T(341,1023,'{n|12.2}','#22ee22',12), T(342,1063,'{n|16.5}','#008080',12), T(341,1085,'{n|18.7}','#0000ff',12),
  T(342,1121,'{n|21}','#8a2be2',12), T(342,1141,'{n|23}','#808080',12),
  T(291,1214,'{i|H}{n| (T)}','#000',12),
  // (d)
  T(369,1065,'{i|R}{si|T}{n| (kΩ)}','#000',12,{rot:Math.PI/2}),
  T(416,987,'{i|H}{si|1}','#ff0000',12), T(457,957,'{i|H}{si|2}','#1010b0',12), T(492,952,'{i|H}{s|c2}','#000',12),
  T(510,983,'{n|0.9}','#000',12), T(509,995,'{n|0.95}','#ff0000',12), T(510,1015,'{n|1.02}','#ff8000',12),
  T(508,1037,'{n|1.04}','#22ee22',12), T(506,1077,'{n|1.06}','#1a8a1a',12), T(505,1116,'{n|1.1}','#008080',12),
  T(490,1157,'{i|T}{n| = 1.2 K}','#0000ff',12), T(422,1172,'{i|θ}{n| = 0°}','#000',12),
  T(459,1214,'{i|H}{n| (T)}','#000',12),
  // (e)
  T(542,1058,'{n|Δ}{i|R}{si|T}{n| (Ω)}','#000',12,{rot:Math.PI/2}),
  T(665,952,'{n|0°}','#000',12), T(664,970,'{n|2°}','#ff0000',12), T(663,987,'{n|10°}','#ff8000',12),
  T(664,1006,'{n|14°}','#22ee22',12), T(666,1050,'{n|22°}','#1a8a1a',12), T(655,1082,'{i|θ}{n| = 34°}','#0000ff',12),
  T(600,1130,'{n|Δ}{i|R}','#000',12), T(648,1130,'{n|~0.25 K}','#000',12), T(615,1175,'{i|T}{n| = 0.9 K}','#000',12),
  T(611,1214,'{i|H}{n| (T)}','#000',12),
  // (f)
  T(777,918,'{i|H}{n| (T)}','#000',12),
  T(697,1062,'{i|C}{si|p}{n|/}{i|T}{n| (mJ/mol K}{u|2}{n|)}','#000',12,{rot:Math.PI/2}),
  T(878,1122,'{n|Δ}{i|C}{si|p}{n|/}{i|T}{n| (mJ/mol K}{u|2}{n|)}','#000',12,{rot:Math.PI/2}),
  T(727,955,'{i|T}{n| =0.35 K}','#000',12,{align:'left'}),
  T(781,992,'{i|H // c}','#f39230',12), T(815,1049,'{i|H // ab}','#0b8a8a',12),
  T(783,1095,'{i|H}{si|1}','#ff0000',12), T(810,1097,'{i|H}{si|2}','#3355ff',12), T(829,1097,'{i|H}{s|c2}','#000',12),
  T(779,1214,'{i|H}{n| /}{i|H}{s|c2}','#000',12)
];

const chart = echarts.init(document.getElementById('c'), null, {renderer:'canvas', width:926, height:1311});
chart.setOption({animation:false, backgroundColor:'#ffffff', textStyle:{fontFamily:FONT},
  grid:grids, xAxis:xAxes, yAxis:yAxes, series:series, graphic:{elements:graphics}});
</script></body></html>
